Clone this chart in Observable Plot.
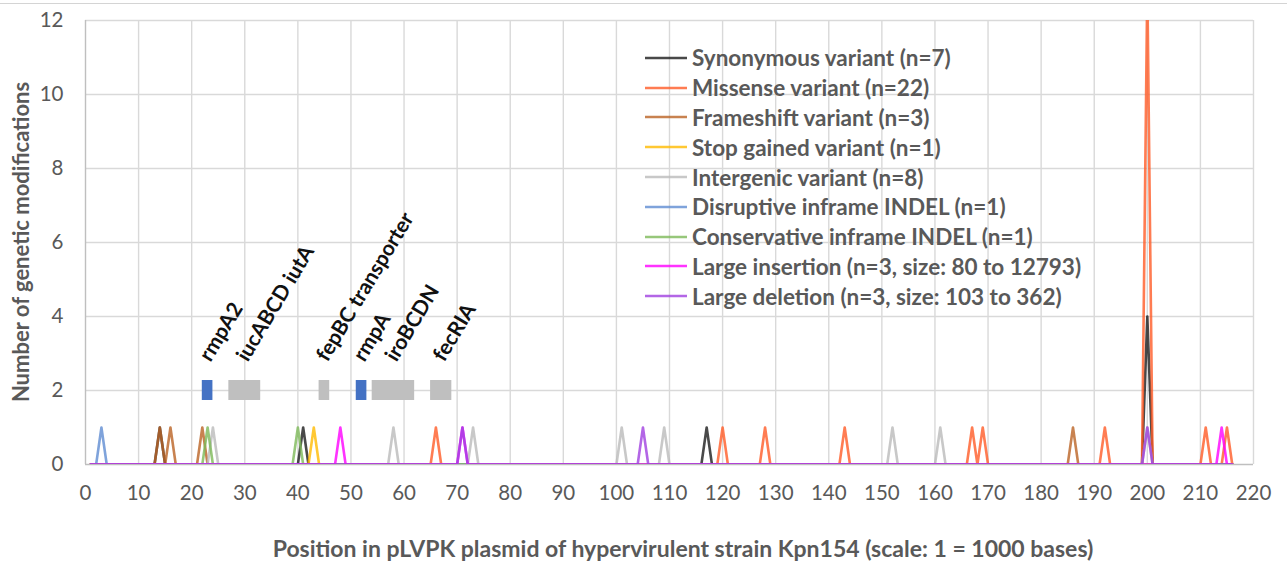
<!DOCTYPE html>
<html>
<head>
<meta charset="utf-8">
<script src="https://cdn.jsdelivr.net/npm/d3@7"></script>
<script src="https://cdn.jsdelivr.net/npm/@observablehq/plot@0.6"></script>
<style>
  html, body { margin: 0; padding: 0; background: #fff; }
  #wrap { position: relative; width: 1287px; height: 561px; overflow: hidden; font-family: Lato, "Open Sans", sans-serif; }
  #topline { position: absolute; left: 0; top: 3px; width: 1287px; height: 1px; background: #d4d4d4; }
  #legend { position: absolute; left: 645px; top: 43px; }
  .row { height: 29.8px; display: flex; align-items: center; }
  .row svg { width: 42px; height: 6px; margin-right: 5px; }
  .row span { font-weight: 700; font-size: 22.5px; color: #595959; white-space: nowrap; }
  #ytitle { position: absolute; left: 20px; top: 242px; transform: translate(-50%, -50%) rotate(-90deg); font-weight: 700; font-size: 22px; color: #595959; white-space: nowrap; }
  #xtitle { position: absolute; left: 683px; top: 548px; transform: translate(-50%, -50%); font-weight: 700; font-size: 23px; color: #595959; white-space: nowrap; }
</style>
</head>
<body>
<div id="wrap">
  <div id="chart"></div>
  <div id="topline"></div>
  <div id="legend"></div>
  <div id="ytitle"></div>
  <div id="xtitle"></div>
</div>
<script>
// ---------- data ----------
const seriesNames = [
  "Synonymous variant (n=7)",
  "Missense variant (n=22)",
  "Frameshift variant (n=3)",
  "Stop gained variant (n=1)",
  "Intergenic variant (n=8)",
  "Disruptive inframe INDEL (n=1)",
  "Conservative inframe INDEL (n=1)",
  "Large insertion (n=3, size: 80 to 12793)",
  "Large deletion (n=3, size: 103 to 362)"
];
const seriesColors = ["#1c1c1c", "#ff5b27", "#ba6324", "#ffba00", "#bababa", "#5f8cd2", "#7db959", "#ff00ff", "#a040e0"];

// [position (kb), number of modifications]
const synonymous   = [[14, 1], [41, 1], [117, 1], [200, 4]];
const missense     = [[66, 1], [120, 1], [128, 1], [143, 1], [167, 1], [169, 1], [192, 1], [200, 13], [211, 1], [215, 1]];
const frameshift   = [[14, 1], [16, 1], [22, 1], [186, 1]];
const stopGained   = [[43, 1]];
const intergenic   = [[24, 1], [58, 1], [73, 1], [101, 1], [109, 1], [152, 1], [161, 1], [200, 1]];
const disruptive   = [[3, 1]];
const conservative = [[23, 1], [40, 1]];
const largeInsertion = [[48, 1], [71, 1], [214, 1]];
const largeDeletion  = [[71, 1], [105, 1], [200, 1]];
const seriesSpikes = [synonymous, missense, frameshift, stopGained, intergenic, disruptive, conservative, largeInsertion, largeDeletion];

const plasmidStart = 1;
const plasmidEnd = 216;

const geneNames  = ["rmpA2", "iucABCD iutA", "fepBC transporter", "rmpA", "iroBCDN", "fecRIA"];
const geneStarts = [22, 27, 44, 51, 54, 65];
const geneEnds   = [24, 33, 46, 53, 62, 69];
const geneColors = ["#4472c4", "#bfbfbf", "#bfbfbf", "#4472c4", "#bfbfbf", "#bfbfbf"];
const geneLevel = 2;

const xTicks = d3.range(0, 221, 10);
const yTicks = [0, 2, 4, 6, 8, 10, 12];

const xTitle = "Position in pLVPK plasmid of hypervirulent strain Kpn154 (scale: 1 = 1000 bases)";
const yTitle = "Number of genetic modifications";

// ---------- build line tables ----------
const lineData = [];
seriesSpikes.forEach((spikes, i) => {
  const s = seriesNames[i];
  lineData.push({series: s, x: plasmidStart, y: 0});
  spikes.slice().sort((a, b) => a[0] - b[0]).forEach(([p, v]) => {
    lineData.push({series: s, x: p - 1, y: 0});
    lineData.push({series: s, x: p, y: v});
    lineData.push({series: s, x: p + 1, y: 0});
  });
  lineData.push({series: s, x: plasmidEnd, y: 0});
});
const genes = geneNames.map((g, i) => ({name: g, start: geneStarts[i], end: geneEnds[i], color: geneColors[i], mid: (geneStarts[i] + geneEnds[i]) / 2}));

const chart = Plot.plot({
  width: 1287,
  height: 561,
  marginLeft: 85,
  marginRight: 34,
  marginTop: 20,
  marginBottom: 97,
  style: {fontFamily: "Lato, 'Open Sans', sans-serif", background: "#fff"},
  x: {domain: [0, 220]},
  y: {domain: [0, 12]},
  color: {domain: seriesNames, range: seriesColors},
  marks: [
    Plot.ruleX(xTicks.slice(1), {stroke: "#d9d9d9", strokeWidth: 1.4}),
    Plot.ruleY(yTicks.slice(1), {stroke: "#d9d9d9", strokeWidth: 1.4}),
    Plot.ruleX([0], {stroke: "#bfbfbf", strokeWidth: 1.4}),
    Plot.ruleY([0], {stroke: "#bfbfbf", strokeWidth: 1.4}),
    Plot.rect(genes, {x1: "start", x2: "end", y1: geneLevel - 0.27, y2: geneLevel + 0.27, fill: "color"}),
    Plot.line(lineData, {x: "x", y: "y", z: "series", stroke: "series", strokeWidth: 2.6, strokeOpacity: 0.8, clip: true}),
    Plot.text(genes, {x: "mid", y: geneLevel + 0.75, text: "name", rotate: -59, textAnchor: "start", lineAnchor: "bottom", dx: 3, fontSize: 21, fontWeight: 700, fill: "#111"}),
    Plot.axisX({ticks: xTicks, tickSize: 0, tickPadding: 21, fontSize: 20.5, label: null, color: "#595959"}),
    Plot.axisY({ticks: yTicks, tickSize: 0, tickPadding: 22, fontSize: 20.5, label: null, color: "#595959"})
  ]
});
document.getElementById("chart").appendChild(chart);

// ---------- legend and titles ----------
const leg = document.getElementById("legend");
seriesNames.forEach((n, i) => {
  const row = document.createElement("div");
  row.className = "row";
  row.innerHTML = `<svg viewBox="0 0 42 6"><line x1="0" y1="3" x2="42" y2="3" stroke="${seriesColors[i]}" stroke-opacity="0.8" stroke-width="2.6"/></svg><span>${n}</span>`;
  leg.appendChild(row);
});
document.getElementById("xtitle").textContent = xTitle;
document.getElementById("ytitle").textContent = yTitle;
</script>
</body>
</html>
